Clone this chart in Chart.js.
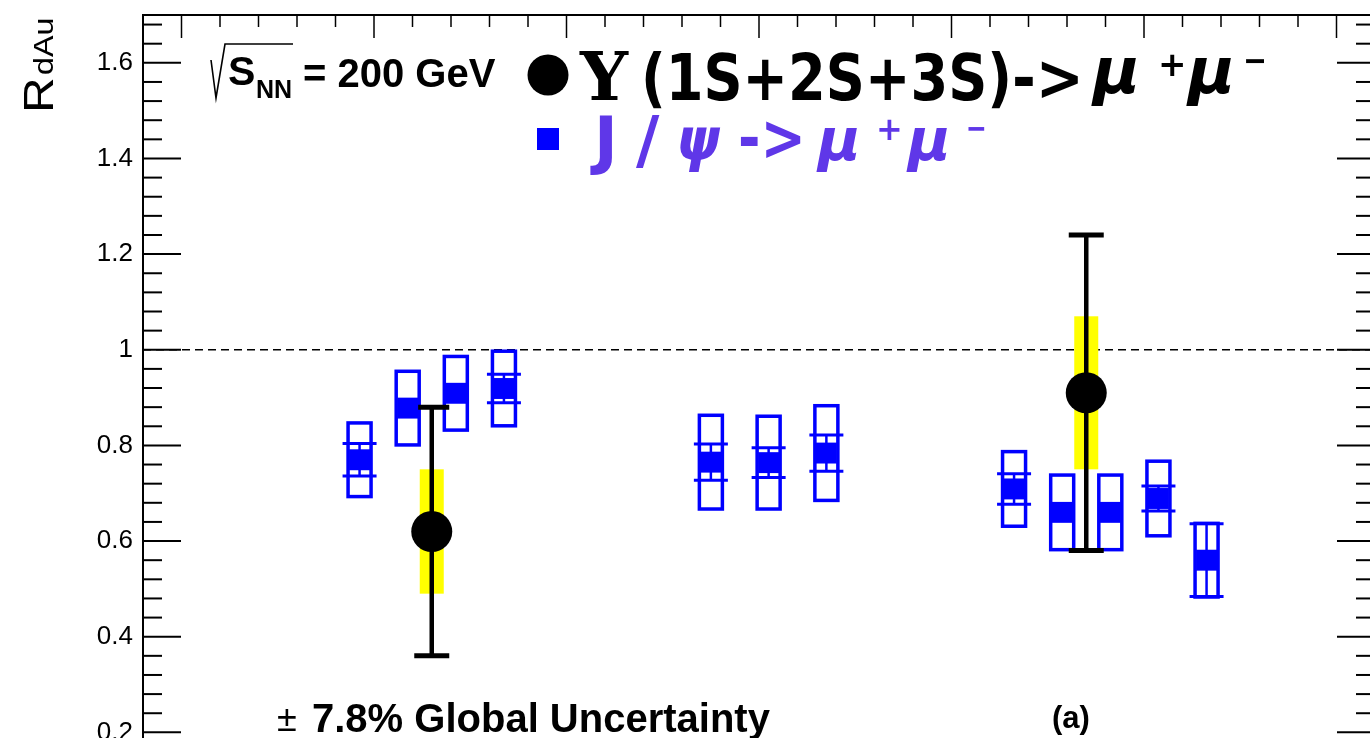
<!DOCTYPE html>
<html>
<head>
<meta charset="utf-8">
<script src="https://cdn.jsdelivr.net/npm/chart.js@4.4.1/dist/chart.umd.min.js"></script>
<style>
  html, body { margin: 0; padding: 0; overflow: hidden; background: #fff; }
  #wrap { position: absolute; left: 0; top: 0; }
</style>
</head>
<body>
<div id="wrap"><canvas id="rdau" width="1376" height="830"></canvas></div>
<script>
// J/psi -> mu+mu- : rapidity, R_dAu, stat and syst errors
const jpsiRap = [-2.075, -1.825, -1.575, -1.325, -0.25, 0.05, 0.35, 1.325, 1.575, 1.825, 2.075, 2.325]
const jpsiR = [0.770, 0.878, 0.909, 0.919, 0.765, 0.764, 0.784, 0.709, 0.660, 0.660, 0.689, 0.560]
const jpsiStat = [0.034, 0.02, 0.02, 0.030, 0.038, 0.031, 0.038, 0.032, 0.02, 0.02, 0.026, 0.076]
const jpsiSys = [0.077, 0.077, 0.077, 0.078, 0.098, 0.097, 0.099, 0.078, 0.078, 0.078, 0.078, 0.077]

// Upsilon(1S+2S+3S) -> mu+mu-
const upsRap = [-1.7, 1.7]
const upsR = [0.62, 0.91]
const upsStat = [0.26, 0.33]
const upsSys = [0.13, 0.16]

const yTicks = [0, 0.2, 0.4, 0.6, 0.8, 1.0, 1.2, 1.4, 1.6]

const BLUE = '#0000ff'
const PURPLE = '#5f37e8'

function jpsiPoints() {
  return jpsiRap.map((x, i) => ({ x: x, y: jpsiR[i] }))
}
function upsPoints() {
  return upsRap.map((x, i) => ({ x: x, y: upsR[i] }))
}

function line(ctx, x1, y1, x2, y2) {
  ctx.beginPath()
  ctx.moveTo(x1, y1)
  ctx.lineTo(x2, y2)
  ctx.stroke()
}

const errorBars = {
  id: 'errorBars',
  beforeDatasetsDraw(chart) {
    const { ctx, chartArea: a, scales: { x, y } } = chart
    ctx.save()
    // R = 1 reference line
    ctx.strokeStyle = '#000'
    ctx.lineWidth = 1.4
    ctx.setLineDash([8, 5])
    line(ctx, a.left, y.getPixelForValue(1), a.right, y.getPixelForValue(1))
    ctx.setLineDash([])

    // J/psi systematic boxes + stat bars
    const half = 10.5
    jpsiRap.forEach((r, i) => {
      const px = x.getPixelForValue(r)
      const py = y.getPixelForValue(jpsiR[i])
      const top = y.getPixelForValue(jpsiR[i] + jpsiSys[i])
      const bot = y.getPixelForValue(jpsiR[i] - jpsiSys[i])
      ctx.strokeStyle = BLUE
      ctx.lineWidth = 3.5
      ctx.strokeRect(px - 11.5, top, 23, bot - top)

      const sTop = y.getPixelForValue(jpsiR[i] + jpsiStat[i])
      const sBot = y.getPixelForValue(jpsiR[i] - jpsiStat[i])
      if (py - sTop > half) {
        ctx.lineWidth = 2.5
        line(ctx, px, sTop, px, sBot)
        ctx.lineWidth = 3
        line(ctx, px - 17, sTop, px + 17, sTop)
        line(ctx, px - 17, sBot, px + 17, sBot)
      }
    })

    // Upsilon: yellow syst band, black stat bar
    upsRap.forEach((r, i) => {
      const px = x.getPixelForValue(r)
      const top = y.getPixelForValue(upsR[i] + upsSys[i])
      const bot = y.getPixelForValue(upsR[i] - upsSys[i])
      ctx.fillStyle = '#ffff00'
      ctx.fillRect(px - 12, top, 24, bot - top)
      const sTop = y.getPixelForValue(upsR[i] + upsStat[i])
      const sBot = y.getPixelForValue(upsR[i] - upsStat[i])
      ctx.strokeStyle = '#000'
      ctx.lineWidth = 4.5
      line(ctx, px, sTop, px, sBot)
      ctx.lineWidth = 5
      line(ctx, px - 17.5, sTop, px + 17.5, sTop)
      line(ctx, px - 17.5, sBot, px + 17.5, sBot)
    })
    ctx.restore()
  },
  afterDraw(chart) {
    const { ctx, chartArea: a, scales: { x, y } } = chart
    ctx.save()
    ctx.strokeStyle = '#000'
    ctx.fillStyle = '#000'

    // frame
    ctx.lineWidth = 2
    ctx.strokeRect(a.left, a.top, a.right - a.left, a.bottom - a.top)

    // y ticks, both sides
    for (let k = 0; k <= 42; k++) {
      const py = y.getPixelForValue(k * 0.04)
      if (py < a.top) continue
      const len = k % 5 === 0 ? 38 : 19
      ctx.lineWidth = 2
      line(ctx, a.left, py, a.left + len, py)
      line(ctx, a.right, py, a.right - len, py)
    }
    // x ticks on top
    for (let k = -16; k <= 16; k++) {
      const px = x.getPixelForValue(k / 5)
      const len = k % 5 === 0 ? 23 : 12
      ctx.lineWidth = 1.5
      line(ctx, px, a.top, px, a.top + len)
    }

    // y title
    ctx.save()
    ctx.translate(53, 113)
    ctx.rotate(-Math.PI / 2)
    ctx.scale(1.15, 1)
    ctx.textAlign = 'left'
    ctx.textBaseline = 'alphabetic'
    ctx.font = '43px "Liberation Sans"'
    ctx.fillText('R', 0, 0)
    const wR = ctx.measureText('R').width
    ctx.font = '28px "Liberation Sans"'
    ctx.fillText('dAu', wR + 2, 0)
    ctx.restore()

    ctx.textAlign = 'left'
    ctx.textBaseline = 'alphabetic'

    // sqrt(s_NN) label
    ctx.lineWidth = 1.6
    ctx.beginPath()
    ctx.moveTo(211, 60)
    ctx.lineTo(216, 98)
    ctx.lineTo(225, 44)
    ctx.lineTo(293, 44)
    ctx.stroke()
    ctx.font = 'bold 41px "Liberation Sans"'
    ctx.fillText('S', 228, 85)
    ctx.font = 'bold 25px "Liberation Sans"'
    ctx.fillText('NN', 256, 98)
    ctx.font = 'bold 40px "Liberation Sans"'
    ctx.fillText('= 200 GeV', 303, 87)

    // legend line 1: Upsilon
    ctx.beginPath()
    ctx.arc(548, 75, 20.5, 0, Math.PI * 2)
    ctx.fill()
    ctx.font = 'bold 68px "DejaVu Serif"'
    ctx.fillText('\u03A5', 580, 100, 48)
    ctx.font = 'bold 64px "DejaVu Sans"'
    ctx.fillText('(1S+2S+3S)', 641, 100, 371)
    ctx.fillText('->', 1012, 100, 72)
    ctx.font = 'italic bold 64px "DejaVu Sans"'
    ctx.fillText('\u03BC', 1093, 93, 52)
    ctx.fillText('\u03BC', 1188, 93, 50)
    ctx.font = 'bold 34px "DejaVu Sans"'
    ctx.fillText('+', 1158, 76)
    ctx.fillText('\u2212', 1243, 72, 24)

    // legend line 2: J/psi
    ctx.fillStyle = BLUE
    ctx.fillRect(537, 128, 22, 22)
    ctx.fillStyle = PURPLE
    ctx.font = 'bold 64px "DejaVu Sans"'
    ctx.fillText('J', 594, 162, 30)
    ctx.fillText('/', 636, 162, 32)
    ctx.fillText('->', 738, 160, 68)
    ctx.font = 'italic bold 58px "DejaVu Sans"'
    ctx.fillText('\u03C8', 676, 160, 44)
    ctx.fillText('\u03BC', 818, 160, 44)
    ctx.fillText('\u03BC', 908, 160, 44)
    ctx.font = 'bold 32px "DejaVu Sans"'
    ctx.fillText('+', 876, 140)
    ctx.fillText('\u2212', 966, 139, 21)

    // bottom texts
    ctx.fillStyle = '#000'
    ctx.font = '36px "Liberation Sans"'
    ctx.fillText('\u00B1', 277, 731)
    ctx.font = 'bold 40px "Liberation Sans"'
    ctx.fillText('7.8% Global Uncertainty', 312, 732)
    ctx.font = 'bold 31px "Liberation Sans"'
    ctx.fillText('(a)', 1052, 728)
    ctx.restore()
  }
}

const ctx = document.getElementById('rdau').getContext('2d')

const config = {
  type: 'scatter',
  data: {
    datasets: [
      {
        label: 'Upsilon(1S+2S+3S)',
        data: upsPoints(),
        pointStyle: 'circle',
        pointRadius: 20.5,
        pointBackgroundColor: '#000',
        pointBorderWidth: 0,
      },
      {
        label: 'J/psi',
        data: jpsiPoints(),
        pointStyle: 'rect',
        pointRadius: 14.8,
        pointBackgroundColor: BLUE,
        pointBorderWidth: 0,
      },
    ],
  },
  options: {
    responsive: false,
    animation: false,
    layout: { autoPadding: false, padding: { top: 15, right: 1, bottom: 2, left: 0 } },
    plugins: {
      legend: { display: false },
      tooltip: { enabled: false },
    },
    scales: {
      x: {
        type: 'linear',
        min: -3.2,
        max: 3.2,
        display: false,
      },
      y: {
        type: 'linear',
        min: 0,
        max: 1.7,
        grid: { display: false, drawTicks: false },
        border: { display: false },
        afterBuildTicks: (scale) => {
          scale.ticks = yTicks.map((v) => ({ value: v }))
        },
        afterFit: (scale) => {
          scale.width = 143
          scale.paddingTop = 0
          scale.paddingBottom = 0
        },
        ticks: {
          padding: 10,
          color: '#000',
          font: { family: 'Liberation Sans', size: 26 },
          callback: (v) => String(Math.round(v * 10) / 10),
        },
      },
    },
  },
  plugins: [errorBars],
}

new Chart(ctx, config)
</script>
</body>
</html>
